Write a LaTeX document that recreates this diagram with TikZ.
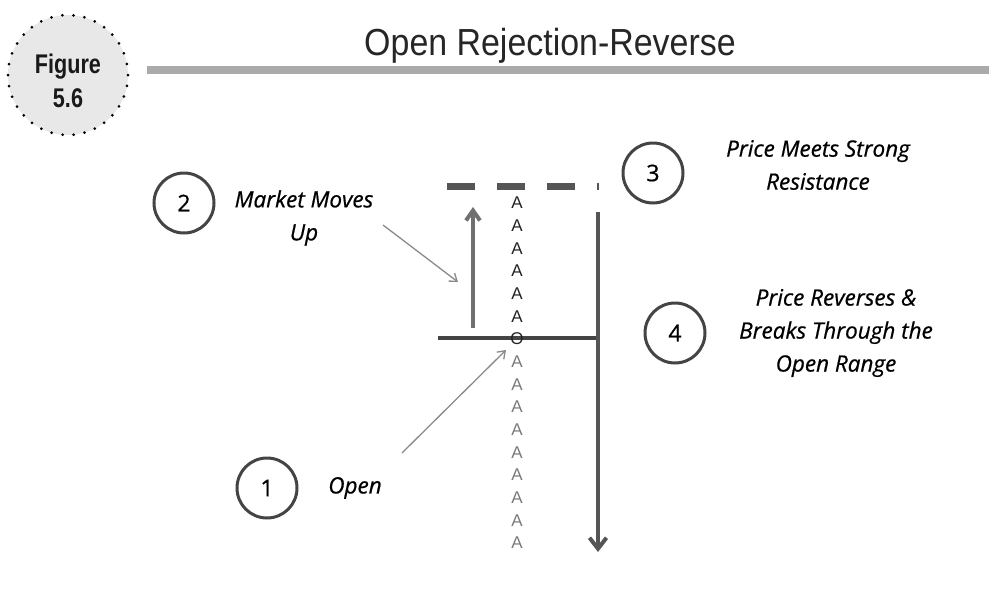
\documentclass[tikz,border=0pt]{standalone}
\usepackage{fontspec}
\setmainfont{Open Sans}
\newfontfamily\lblfont[FakeBold=0.7]{Open Sans}
\newfontfamily\titlefont[FakeStretch=0.9]{Liberation Sans}
\newfontfamily\badgefont[FakeStretch=0.8]{Liberation Sans}
\newfontfamily\letterfont{Liberation Sans}
\usetikzlibrary{arrows.meta,calc}

\definecolor{ringgray}{HTML}{444444}
\definecolor{bargray}{HTML}{AAAAAA}
\definecolor{badgefill}{HTML}{E8E8E8}
\definecolor{upgray}{HTML}{707070}
\definecolor{downgray}{HTML}{555555}
\definecolor{pointgray}{HTML}{8A8A8A}
\definecolor{tpodark}{HTML}{222222}
\definecolor{tpolight}{HTML}{7A7A7A}

\begin{document}
\begin{tikzpicture}[
    x=1pt, y=-1pt,
    num/.style={circle, draw=ringgray, line width=3pt, minimum size=60pt, inner sep=0pt, font=\lblfont\fontsize{23}{23}\selectfont},
    lbl/.style={align=center, inner sep=0pt, text=black, font=\lblfont\fontsize{22.5}{33}\selectfont\itshape},
    tpo/.style={inner sep=0pt, font=\letterfont\fontsize{17}{17}\selectfont},
    badge/.style={circle, draw=black, fill=badgefill, line width=3pt, dash pattern=on 0pt off 11.09pt, line cap=round, minimum size=120pt, inner sep=0pt},
    badgetext/.style={align=center, inner sep=0pt, text=black!90, font=\badgefont\bfseries\fontsize{27}{34}\selectfont},
    thinarrow/.style={-{Straight Barb[length=7pt,width=10pt]}, line width=1.3pt, draw=pointgray},
    uparrow/.style={-{Straight Barb[length=10pt,width=14pt]}, line width=4pt, draw=upgray},
    downarrow/.style={-{Straight Barb[length=11pt,width=17pt]}, line width=4pt, draw=downgray}
]
\useasboundingbox (0,0) rectangle (989,608);

% heading
\node[badge] (fig) at (68,75) {};
\node[badgetext] (figno) at (68,81) {Figure\\5.6};
\node[anchor=base, inner sep=0pt, font=\titlefont\fontsize{37.7}{37.7}\selectfont, text=black!85] (title) at (550,55) {Open Rejection-Reverse};
\fill[bargray] (147,66) rectangle (989,74);

% price levels
\coordinate (resl) at (447,186);
\coordinate (resr) at (599,186);
\draw[downgray, line width=7pt, dash pattern=on 28pt off 22pt] (resl) -- (resr);
\coordinate (orl) at (438,338);
\coordinate (orr) at (598,338);
\draw[ringgray, line width=3.5pt] (orl) -- (orr);

% TPO column
\foreach \i in {0,...,5}
  \node[tpo, text=tpodark] (a\i) at (517,{203+22.67*\i}) {A};
\node[tpo, text=tpodark] (open) at (517,339) {O};
\foreach \i in {7,...,15}
  \node[tpo, text=tpolight] (a\i) at (517,{203+22.67*\i}) {A};

% moves
\coordinate (upbase) at (473,328);
\coordinate (uptip) at (473,207);
\draw[uparrow] (upbase) -- (uptip);
\coordinate (dntop) at (598,212);
\coordinate (dntip) at (598,552);
\draw[downarrow] (dntop) -- (dntip);

% steps
\node[num] (c1) at (267,488) {1};
\node[lbl] (lopen) at (355,488) {Open};
\node[num] (c2) at (184,203) {2};
\node[lbl] (lup) at (304,218) {Market Moves\\Up};
\node[num] (c3) at (653,173) {3};
\node[lbl] (lres) at (818,165) {Price Meets Strong\\Resistance};
\node[num] (c4) at (675,333) {4};
\node[lbl] (lrev) at (836,333) {Price Reverses \&\\Breaks Through the\\Open Range};

\coordinate (p1s) at (402,453);
\coordinate (p1e) at (506,350);
\draw[thinarrow] (p1s) -- (p1e);
\coordinate (p2s) at (383,225);
\coordinate (p2e) at (458,282);
\draw[thinarrow] (p2s) -- (p2e);
\end{tikzpicture}
\end{document}
